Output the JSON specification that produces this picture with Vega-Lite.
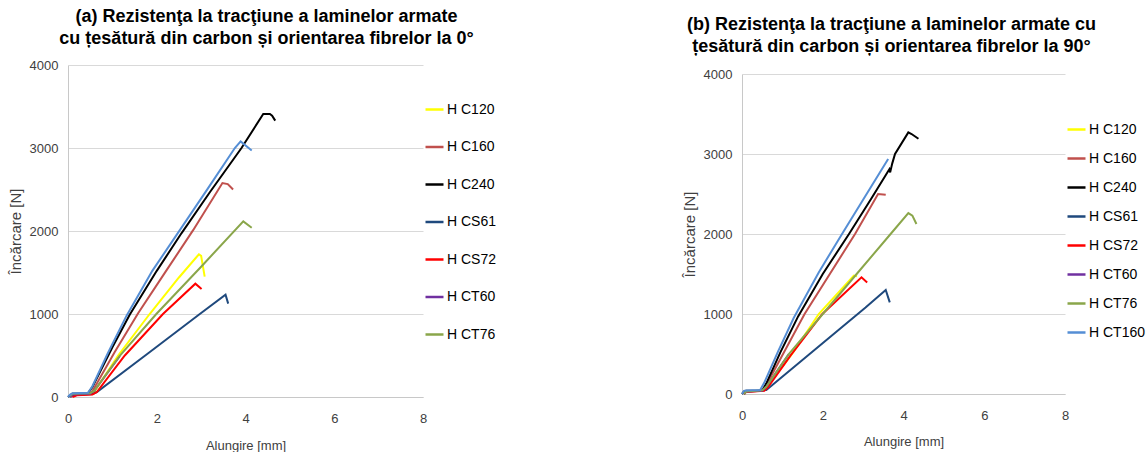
{
  "$schema": "https://vega.github.io/schema/vega-lite/v6.json",
  "padding": {"left": 8, "top": 8, "right": 0, "bottom": 0},
  "background": "white",
  "spacing": 184,
  "config": {
    "view": {"stroke": null},
    "font": "Liberation Sans",
    "title": {"font": "Liberation Sans", "fontSize": 18, "fontWeight": "bold", "color": "#000000", "lineHeight": 22},
    "axis": {
      "labelFont": "Liberation Sans", "labelFontSize": 13, "labelColor": "#404040", "labelFlush": false,
      "titleFont": "Liberation Sans", "titleFontSize": 14, "titleColor": "#404040", "titleFontWeight": "normal",
      "ticks": false, "gridColor": "#D9D9D9", "gridWidth": 1, "domainColor": "#C8C8C8", "domainWidth": 1
    },
    "legend": {
      "labelFont": "Liberation Sans", "labelFontSize": 14, "labelColor": "#000000",
      "symbolType": "stroke", "symbolSize": 324, "symbolStrokeWidth": 2.5, "labelOffset": 2, "padding": 0
    }
  },
  "datasets": {
    "a": [
      {"s": "H C120", "x": 0.05, "y": 0}, {"s": "H C120", "x": 0.1, "y": 25}, {"s": "H C120", "x": 0.5, "y": 40}, {"s": "H C120", "x": 0.6, "y": 70}, {"s": "H C120", "x": 1.13, "y": 500}, {"s": "H C120", "x": 1.84, "y": 1000}, {"s": "H C120", "x": 2.5, "y": 1440}, {"s": "H C120", "x": 2.95, "y": 1720}, {"s": "H C120", "x": 3.0, "y": 1700}, {"s": "H C120", "x": 3.08, "y": 1450},
      {"s": "H C160", "x": 0.05, "y": 0}, {"s": "H C160", "x": 0.1, "y": 25}, {"s": "H C160", "x": 0.5, "y": 40}, {"s": "H C160", "x": 0.55, "y": 70}, {"s": "H C160", "x": 1.05, "y": 540}, {"s": "H C160", "x": 1.58, "y": 1010}, {"s": "H C160", "x": 2.2, "y": 1510}, {"s": "H C160", "x": 2.82, "y": 2010}, {"s": "H C160", "x": 3.48, "y": 2578}, {"s": "H C160", "x": 3.6, "y": 2565}, {"s": "H C160", "x": 3.72, "y": 2500},
      {"s": "H C240", "x": 0, "y": 0}, {"s": "H C240", "x": 0.05, "y": 20}, {"s": "H C240", "x": 0.1, "y": 40}, {"s": "H C240", "x": 0.45, "y": 45}, {"s": "H C240", "x": 0.55, "y": 120}, {"s": "H C240", "x": 1.0, "y": 600}, {"s": "H C240", "x": 1.39, "y": 990}, {"s": "H C240", "x": 2.0, "y": 1520}, {"s": "H C240", "x": 2.56, "y": 1975}, {"s": "H C240", "x": 3.2, "y": 2470}, {"s": "H C240", "x": 3.91, "y": 3000}, {"s": "H C240", "x": 4.4, "y": 3410}, {"s": "H C240", "x": 4.55, "y": 3410}, {"s": "H C240", "x": 4.6, "y": 3390}, {"s": "H C240", "x": 4.67, "y": 3330},
      {"s": "H CS61", "x": 0.05, "y": 0}, {"s": "H CS61", "x": 0.1, "y": 20}, {"s": "H CS61", "x": 0.55, "y": 35}, {"s": "H CS61", "x": 0.65, "y": 60}, {"s": "H CS61", "x": 1.8, "y": 525}, {"s": "H CS61", "x": 2.97, "y": 1000}, {"s": "H CS61", "x": 3.55, "y": 1233}, {"s": "H CS61", "x": 3.61, "y": 1125},
      {"s": "H CS72", "x": 0.1, "y": 0}, {"s": "H CS72", "x": 0.2, "y": 20}, {"s": "H CS72", "x": 0.55, "y": 30}, {"s": "H CS72", "x": 0.65, "y": 60}, {"s": "H CS72", "x": 1.28, "y": 500}, {"s": "H CS72", "x": 2.14, "y": 1000}, {"s": "H CS72", "x": 2.87, "y": 1365}, {"s": "H CS72", "x": 3.01, "y": 1300},
      {"s": "H CT60", "x": 0.05, "y": 0}, {"s": "H CT60", "x": 0.1, "y": 30}, {"s": "H CT60", "x": 0.5, "y": 40}, {"s": "H CT60", "x": 0.6, "y": 80}, {"s": "H CT60", "x": 1.17, "y": 494},
      {"s": "H CT76", "x": 0.05, "y": 10}, {"s": "H CT76", "x": 0.1, "y": 40}, {"s": "H CT76", "x": 0.5, "y": 45}, {"s": "H CT76", "x": 0.6, "y": 80}, {"s": "H CT76", "x": 1.17, "y": 500}, {"s": "H CT76", "x": 1.99, "y": 1000}, {"s": "H CT76", "x": 3.0, "y": 1570}, {"s": "H CT76", "x": 3.95, "y": 2116}, {"s": "H CT76", "x": 4.14, "y": 2040},
      {"s": "H CT160", "x": 0, "y": 0}, {"s": "H CT160", "x": 0.05, "y": 30}, {"s": "H CT160", "x": 0.1, "y": 45}, {"s": "H CT160", "x": 0.45, "y": 50}, {"s": "H CT160", "x": 0.55, "y": 130}, {"s": "H CT160", "x": 0.9, "y": 530}, {"s": "H CT160", "x": 1.32, "y": 980}, {"s": "H CT160", "x": 1.9, "y": 1520}, {"s": "H CT160", "x": 2.52, "y": 2010}, {"s": "H CT160", "x": 3.15, "y": 2510}, {"s": "H CT160", "x": 3.76, "y": 3000}, {"s": "H CT160", "x": 3.89, "y": 3080}, {"s": "H CT160", "x": 4.14, "y": 2970}
    ],
    "b": [
      {"s": "H C120", "x": 0.05, "y": 0}, {"s": "H C120", "x": 0.1, "y": 30}, {"s": "H C120", "x": 0.5, "y": 40}, {"s": "H C120", "x": 0.6, "y": 80}, {"s": "H C120", "x": 1.24, "y": 500}, {"s": "H C120", "x": 1.9, "y": 1000}, {"s": "H C120", "x": 2.77, "y": 1480}, {"s": "H C120", "x": 2.85, "y": 1470},
      {"s": "H C160", "x": 0.05, "y": 0}, {"s": "H C160", "x": 0.1, "y": 30}, {"s": "H C160", "x": 0.5, "y": 40}, {"s": "H C160", "x": 0.6, "y": 110}, {"s": "H C160", "x": 1.55, "y": 1000}, {"s": "H C160", "x": 2.8, "y": 2000}, {"s": "H C160", "x": 3.37, "y": 2500}, {"s": "H C160", "x": 3.56, "y": 2490},
      {"s": "H C240", "x": 0, "y": 0}, {"s": "H C240", "x": 0.05, "y": 30}, {"s": "H C240", "x": 0.1, "y": 40}, {"s": "H C240", "x": 0.5, "y": 45}, {"s": "H C240", "x": 0.6, "y": 130}, {"s": "H C240", "x": 0.95, "y": 520}, {"s": "H C240", "x": 1.39, "y": 970}, {"s": "H C240", "x": 2.0, "y": 1500}, {"s": "H C240", "x": 2.65, "y": 2000}, {"s": "H C240", "x": 3.2, "y": 2440}, {"s": "H C240", "x": 3.6, "y": 2770}, {"s": "H C240", "x": 3.65, "y": 2810}, {"s": "H C240", "x": 3.67, "y": 2770}, {"s": "H C240", "x": 3.72, "y": 2880}, {"s": "H C240", "x": 3.79, "y": 3000}, {"s": "H C240", "x": 4.12, "y": 3270}, {"s": "H C240", "x": 4.2, "y": 3250}, {"s": "H C240", "x": 4.37, "y": 3190},
      {"s": "H CS61", "x": 0.05, "y": 0}, {"s": "H CS61", "x": 0.1, "y": 30}, {"s": "H CS61", "x": 0.6, "y": 50}, {"s": "H CS61", "x": 0.7, "y": 90}, {"s": "H CS61", "x": 1.72, "y": 520}, {"s": "H CS61", "x": 3.06, "y": 1080}, {"s": "H CS61", "x": 3.56, "y": 1300}, {"s": "H CS61", "x": 3.66, "y": 1146},
      {"s": "H CS72", "x": 0.05, "y": 0}, {"s": "H CS72", "x": 0.1, "y": 25}, {"s": "H CS72", "x": 0.55, "y": 40}, {"s": "H CS72", "x": 0.65, "y": 90}, {"s": "H CS72", "x": 1.2, "y": 480}, {"s": "H CS72", "x": 1.99, "y": 1000}, {"s": "H CS72", "x": 2.96, "y": 1458}, {"s": "H CS72", "x": 3.1, "y": 1395},
      {"s": "H CT60", "x": 0.05, "y": 0}, {"s": "H CT60", "x": 0.1, "y": 30}, {"s": "H CT60", "x": 0.5, "y": 40}, {"s": "H CT60", "x": 0.6, "y": 90}, {"s": "H CT60", "x": 1.16, "y": 500},
      {"s": "H CT76", "x": 0.05, "y": 0}, {"s": "H CT76", "x": 0.1, "y": 30}, {"s": "H CT76", "x": 0.5, "y": 45}, {"s": "H CT76", "x": 0.6, "y": 90}, {"s": "H CT76", "x": 1.16, "y": 500}, {"s": "H CT76", "x": 2.0, "y": 1000}, {"s": "H CT76", "x": 2.84, "y": 1500}, {"s": "H CT76", "x": 3.68, "y": 2000}, {"s": "H CT76", "x": 4.12, "y": 2262}, {"s": "H CT76", "x": 4.22, "y": 2230}, {"s": "H CT76", "x": 4.32, "y": 2125},
      {"s": "H CT160", "x": 0, "y": 0}, {"s": "H CT160", "x": 0.05, "y": 40}, {"s": "H CT160", "x": 0.1, "y": 45}, {"s": "H CT160", "x": 0.45, "y": 50}, {"s": "H CT160", "x": 0.55, "y": 140}, {"s": "H CT160", "x": 0.9, "y": 540}, {"s": "H CT160", "x": 1.28, "y": 950}, {"s": "H CT160", "x": 1.9, "y": 1520}, {"s": "H CT160", "x": 2.5, "y": 2020}, {"s": "H CT160", "x": 3.62, "y": 2937}
    ]
  },
  "resolve": {"scale": {"color": "independent", "x": "independent", "y": "independent"}, "legend": {"color": "independent"}},
  "hconcat": [
    {
      "width": 355,
      "height": 332,
      "title": {"text": ["(a) Rezistenţa la tracţiune  a laminelor  armate", "cu țesătură din carbon și orientarea fibrelor la 0°"], "offset": 11, "dx": 21},
      "data": {"name": "a"},
      "layer": [
        {
          "transform": [{"filter": "datum.s !== 'H CT160'"}],
          "mark": {"type": "line", "strokeWidth": 2},
          "encoding": {
            "x": {"field": "x", "type": "quantitative", "scale": {"domain": [0, 8]}, "axis": {"values": [0, 2, 4, 6, 8], "title": "Alungire [mm]", "titleFontSize": 13, "grid": false, "labelPadding": 15, "titlePadding": 14}},
            "y": {"field": "y", "type": "quantitative", "scale": {"domain": [0, 4000]}, "axis": {"values": [0, 1000, 2000, 3000, 4000], "format": "d", "title": "Încărcare [N]", "titleFontSize": 15, "labelPadding": 10, "titlePadding": 6}},
            "color": {"field": "s", "type": "nominal",
              "scale": {"domain": ["H C120", "H C160", "H C240", "H CS61", "H CS72", "H CT60", "H CT76"], "range": ["#FFFF00", "#C0504D", "#000000", "#1F497D", "#FF0000", "#7030A0", "#8AA64A"]},
              "legend": {"title": null, "orient": "none", "legendX": 356, "legendY": 34, "rowPadding": 19.5}}
          }
        },
        {
          "transform": [{"filter": "datum.s === 'H CT160'"}],
          "mark": {"type": "line", "strokeWidth": 2, "color": "#558ED5"},
          "encoding": {
            "x": {"field": "x", "type": "quantitative"},
            "y": {"field": "y", "type": "quantitative"}
          }
        }
      ]
    },
    {
      "width": 323,
      "height": 329,
      "title": {"text": ["(b) Rezistenţa la tracţiune  a laminelor  armate cu", "țesătură din carbon și orientarea fibrelor la 90°"], "offset": 11, "dx": -12, "dy": 2},
      "data": {"name": "b"},
      "mark": {"type": "line", "strokeWidth": 2},
      "encoding": {
        "x": {"field": "x", "type": "quantitative", "scale": {"domain": [0, 8]}, "axis": {"values": [0, 2, 4, 6, 8], "title": "Alungire [mm]", "titleFontSize": 13, "grid": false, "labelPadding": 15, "titlePadding": 13}},
        "y": {"field": "y", "type": "quantitative", "scale": {"domain": [0, 4000], "range": [329, 9]}, "axis": {"values": [0, 1000, 2000, 3000, 4000], "format": "d", "title": "Încărcare [N]", "titleFontSize": 15, "labelPadding": 10, "titlePadding": 6}},
        "color": {"field": "s", "type": "nominal",
          "scale": {"domain": ["H C120", "H C160", "H C240", "H CS61", "H CS72", "H CT60", "H CT76", "H CT160"], "range": ["#FFFF00", "#C0504D", "#000000", "#1F497D", "#FF0000", "#7030A0", "#8AA64A", "#558ED5"]},
          "legend": {"title": null, "orient": "none", "legendX": 324, "legendY": 54, "rowPadding": 11}}
      }
    }
  ]
}
